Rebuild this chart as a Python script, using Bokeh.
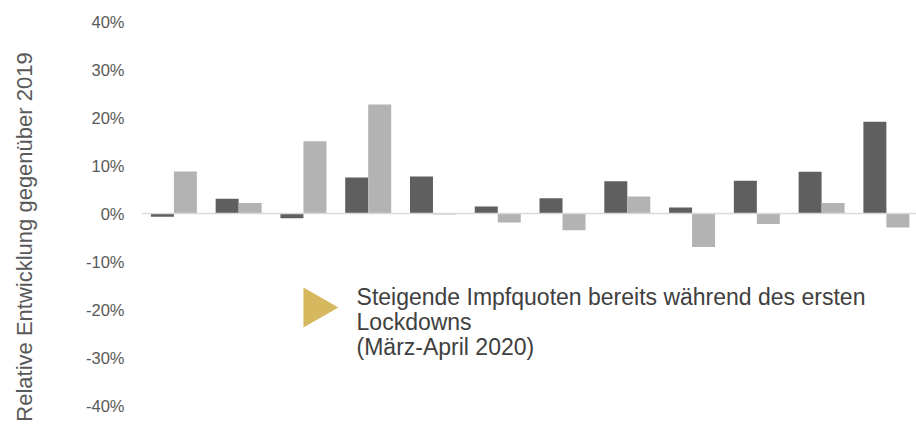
from bokeh.plotting import figure
from bokeh.layouts import row
from bokeh.models import Range1d, FixedTicker, PrintfTickFormatter, Span, Label, ColumnDataSource
from bokeh.core.properties import value
from bokeh.embed import file_html
from bokeh.resources import INLINE

# Data (relative change vs. 2019, in percent)
groups = list(range(12))
series_dark = [-0.7, 3.05, -1.0, 7.5, 7.7, 1.45, 3.2, 6.7, 1.25, 6.8, 8.7, 19.1]
series_light = [8.75, 2.2, 15.05, 22.7, -0.2, -1.9, -3.5, 3.55, -7.0, -2.2, 2.2, -2.9]
y_ticks = [-50, -40, -30, -20, -10, 0, 10, 20, 30, 40]

axis_title = "Relative Entwicklung gegenüber 2019"
note_lines = ["Steigende Impfquoten bereits während des ersten", "Lockdowns", "(März-April 2020)"]

FONT = "Liberation Sans"
DARK = "#5f5f5f"
LIGHT = "#b3b3b3"

bw = 0.355
src = ColumnDataSource(dict(
    xd=[g - bw / 2 for g in groups],
    xl=[g + bw / 2 for g in groups],
    d=series_dark,
    l=series_light,
))

# left strip carrying the rotated y-axis title
side = figure(width=48, height=447, output_backend="svg", toolbar_location=None,
              x_range=Range1d(0, 48), y_range=Range1d(0, 447),
              min_border=0, x_axis_location=None, y_axis_location=None)
side.outline_line_color = None
side.grid.visible = False
side.text(x=[24], y=[210.5], text=[axis_title], angle=1.5708, text_align="center",
          text_baseline="middle", text_font=value(FONT), text_font_size="22px",
          text_color="#595959")

p = figure(width=868, height=447, output_backend="svg", toolbar_location=None,
           x_range=Range1d(-0.5, 11.465), y_range=Range1d(-48.75, 44.375),
           min_border_left=93, min_border_right=0, min_border_top=0, min_border_bottom=0,
           x_axis_location=None)
p.outline_line_color = None
p.grid.visible = False
p.background_fill_color = "white"

p.vbar(x="xd", top="d", bottom=0, width=bw, source=src, fill_color=DARK, line_color=None)
p.vbar(x="xl", top="l", bottom=0, width=bw, source=src, fill_color=LIGHT, line_color=None)

p.add_layout(Span(location=0, dimension="width", line_color="#d9d9d9", line_width=1.5))

ax = p.yaxis[0]
ax.ticker = FixedTicker(ticks=y_ticks)
ax.formatter = PrintfTickFormatter(format="%d%%")
ax.axis_line_color = None
ax.major_tick_line_color = None
ax.minor_tick_line_color = None
ax.major_tick_out = 0
ax.major_tick_in = 0
ax.major_label_standoff = 17
ax.major_label_text_font = FONT
ax.major_label_text_font_size = "16.5px"
ax.major_label_text_color = "#595959"

# marker triangle
p.patch(x=[2.0, 2.54, 2.0], y=[-15.42, -19.58, -23.75], fill_color="#d6b85f", line_color=None)

for txt, yy in zip(note_lines, [-17.3, -22.6, -27.9]):
    p.add_layout(Label(x=2.82, y=yy, text=txt, text_align="left", text_baseline="middle",
                       text_font=FONT, text_font_size="23px", text_color="#404040"))

layout = row(side, p, spacing=0)
open("out.html", "w").write(file_html(layout, INLINE))
